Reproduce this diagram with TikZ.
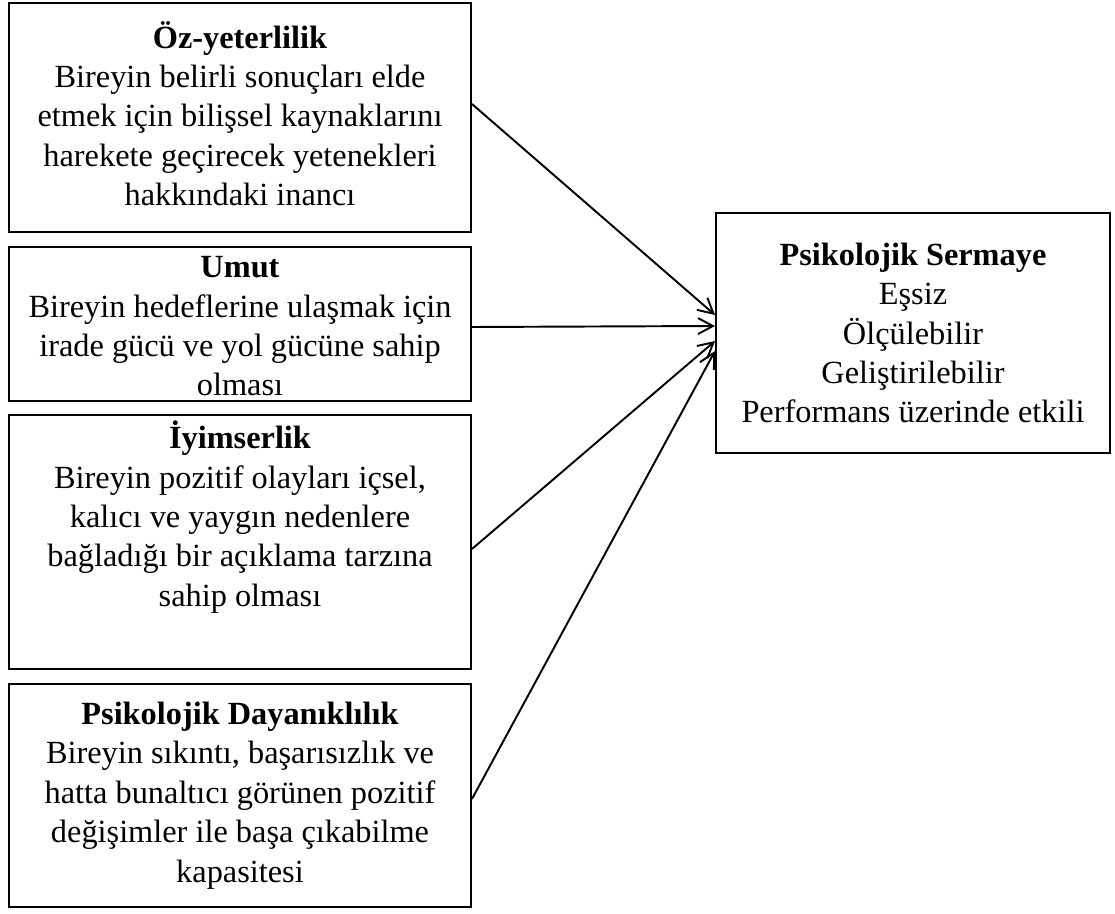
\documentclass[tikz,border=0pt]{standalone}
\usepackage{fontspec}
\setmainfont{Liberation Serif}
\usetikzlibrary{arrows.meta}
\begin{document}
\begin{tikzpicture}[
  box/.style={draw, line width=1.1pt, inner sep=0pt, minimum width=9.24cm},
  txt/.style={inner sep=0pt, align=center, font=\fontsize{18.4}{22.4}\selectfont},
  rbox/.style={box, minimum width=7.88cm, minimum height=4.8cm},
  conn/.style={line width=1.1pt, -{Straight Barb[length=3mm,width=3.2mm,line width=1.1pt]}}
]
\useasboundingbox (0,0) rectangle (22.3,-18.28);
\node[box, minimum height=4.58cm] (b1) at (4.8,-2.35) {};
\node[txt] (t1) at ([yshift=0.08cm]b1.center)
  {\textbf{Öz-yeterlilik}\\Bireyin belirli sonuçları elde\\etmek için bilişsel kaynaklarını\\harekete geçirecek yetenekleri\\hakkındaki inancı};
\node[box, minimum height=3.08cm] (b2) at (4.8,-6.48) {};
\node[txt] (t2) at ([yshift=-0.05cm]b2.center)
  {\textbf{Umut}\\Bireyin hedeflerine ulaşmak için\\irade gücü ve yol gücüne sahip\\olması};
\node[box, minimum height=5.08cm] (b3) at (4.8,-10.84) {};
\node[txt] (t3) at ([yshift=0.5cm]b3.center)
  {\textbf{İyimserlik}\\Bireyin pozitif olayları içsel,\\kalıcı ve yaygın nedenlere\\bağladığı bir açıklama tarzına\\sahip olması};
\node[box, minimum height=4.46cm] (b4) at (4.8,-15.91) {};
\node[txt] (t4) at (b4.center)
  {\textbf{Psikolojik Dayanıklılık}\\Bireyin sıkıntı, başarısızlık ve\\hatta bunaltıcı görünen pozitif\\değişimler ile başa çıkabilme\\kapasitesi};
\node[rbox] (ps) at (18.26,-6.66) {};
\node[txt] (tp) at (ps.center)
  {\textbf{Psikolojik Sermaye}\\Eşsiz\\Ölçülebilir\\Geliştirilebilir\\Performans üzerinde etkili};
\draw[conn] ([yshift=0.27cm]b1.east) -- ([yshift=0.36cm]ps.west);
\draw[conn] ([yshift=-0.06cm]b2.east) -- ([yshift=0.14cm]ps.west);
\draw[conn] ([yshift=-0.14cm]b3.east) -- ([yshift=-0.16cm]ps.west);
\draw[conn] ([yshift=-0.07cm]b4.east) -- ([yshift=-0.36cm]ps.west);
\end{tikzpicture}
\end{document}
